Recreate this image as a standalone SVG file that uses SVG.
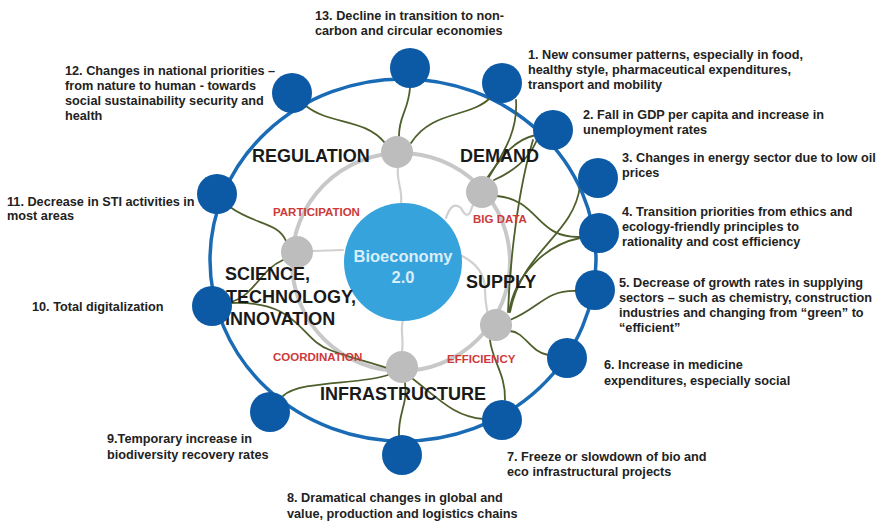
<svg xmlns="http://www.w3.org/2000/svg" width="881" height="524" viewBox="0 0 881 524">
<style>
.bn{fill:#0c5aa6}
.gn{fill:#bdbdbd}
.lnk{fill:none;stroke:#4e5f2c;stroke-width:1.8;stroke-linecap:round}
.spk{fill:none;stroke:#d0d0d0;stroke-width:2.2;stroke-linecap:round}
.it{font-family:"Liberation Sans",Arial,sans-serif;font-weight:bold;font-size:12.7px;fill:#222}
.big{font-family:"Liberation Sans",Arial,sans-serif;font-weight:bold;font-size:18px;fill:#1a1a1a}
.red{font-family:"Liberation Sans",Arial,sans-serif;font-weight:bold;font-size:11.5px;fill:#cc3a3a}
</style>
<rect width="881" height="524" fill="#ffffff"/>
<g id="rings">
<ellipse cx="403" cy="260" rx="193" ry="181" fill="none" stroke="#1a6bb5" stroke-width="3.5"/>
<circle cx="401" cy="262" r="109" fill="none" stroke="#c8c8c8" stroke-width="4"/>
</g>
<g id="connectors">
<path class="spk" d="M398,168 C396,180 403,190 401,203"/>
<path class="spk" d="M313,251 L343,250"/>
<path class="spk" d="M402,351 C404,340 400,330 403,320"/>
<path class="spk" d="M446,218 Q452,200 461,208 Q468,222 472,207 L477,200"/>
<path class="spk" d="M460,255 C475,262 485,272 485,290 C485,305 488,312 488,318"/>
<path class="lnk" d="M306,106 C330,125 365,118 385,143"/>
<path class="lnk" d="M410,88 C408,112 399,115 399,136"/>
<path class="lnk" d="M490,98 C470,118 432,110 411,143"/>
<path class="lnk" d="M516,100 C518,130 505,150 489,177"/>
<path class="lnk" d="M536,135 C512,140 500,160 487,178"/>
<path class="lnk" d="M538,137 C530,160 512,172 494,180"/>
<path class="lnk" d="M533,140 C518,190 510,260 508,312"/>
<path class="lnk" d="M580,186 C574,235 522,250 510,312"/>
<path class="lnk" d="M497,196 C540,200 535,238 580,237"/>
<path class="lnk" d="M580,238 C545,245 515,275 509,312"/>
<path class="lnk" d="M576,291 C545,290 540,308 510,320"/>
<path class="lnk" d="M548,355 C530,352 525,332 510,331"/>
<path class="lnk" d="M505,400 C506,375 492,360 490,340"/>
<path class="lnk" d="M484,419 C455,417 440,400 413,379"/>
<path class="lnk" d="M399,436 C398,412 408,405 405,383"/>
<path class="lnk" d="M283,396 C300,380 360,385 388,375"/>
<path class="lnk" d="M230,303 C300,300 300,340 330,350 C350,358 370,362 387,368"/>
<path class="lnk" d="M283,260 C260,270 255,295 231,302"/>
<path class="lnk" d="M230,207 C255,225 278,222 286,241"/>
</g>
<g id="center">
<circle cx="403" cy="262" r="59" fill="#37a3dc"/>
<text x="403" y="262" text-anchor="middle" font-family="Liberation Sans, Arial, sans-serif" font-weight="bold" font-size="16.5" fill="#d8eef8">Bioeconomy</text>
<text x="403" y="283" text-anchor="middle" font-family="Liberation Sans, Arial, sans-serif" font-weight="bold" font-size="16.5" fill="#d8eef8">2.0</text>
</g>
<g id="regulation"><circle class="gn" cx="397" cy="152" r="16"/><text class="big" x="252" y="162">REGULATION</text></g>
<g id="demand"><circle class="gn" cx="482" cy="192" r="16"/><text class="big" x="460" y="162">DEMAND</text><text class="red" x="473" y="223">BIG DATA</text></g>
<g id="science"><circle class="gn" cx="297" cy="252" r="16"/><text class="big" x="225" y="280">SCIENCE,</text><text class="big" x="226" y="303">TECHNOLOGY,</text><text class="big" x="225" y="325">INNOVATION</text><text class="red" x="273" y="216">PARTICIPATION</text></g>
<g id="supply"><circle class="gn" cx="496" cy="325" r="16"/><text class="big" x="466" y="288">SUPPLY</text><text class="red" x="447" y="363">EFFICIENCY</text></g>
<g id="infrastructure"><circle class="gn" cx="402" cy="367" r="16"/><text class="big" x="320" y="400">INFRASTRUCTURE</text><text class="red" x="273" y="361">COORDINATION</text></g>
<g id="n13"><circle class="bn" cx="410" cy="68" r="20"/><text class="it" x="315" y="20">13. Decline in transition to non-</text><text class="it" x="315" y="35">carbon and circular economies</text></g>
<g id="n1"><circle class="bn" cx="502" cy="83" r="20"/><text class="it" x="528" y="59">1. New consumer patterns, especially in food,</text><text class="it" x="528" y="74">healthy style, pharmaceutical expenditures,</text><text class="it" x="528" y="89">transport and mobility</text></g>
<g id="n2"><circle class="bn" cx="553" cy="130" r="20"/><text class="it" x="583" y="119">2. Fall in GDP  per capita and increase in</text><text class="it" x="583" y="134">unemployment rates</text></g>
<g id="n3"><circle class="bn" cx="598" cy="178" r="20"/><text class="it" x="622" y="162">3. Changes in energy sector due to low oil</text><text class="it" x="622" y="177">prices</text></g>
<g id="n4"><circle class="bn" cx="599" cy="233" r="20"/><text class="it" x="622" y="216">4. Transition priorities from ethics and</text><text class="it" x="622" y="231">ecology-friendly principles to</text><text class="it" x="622" y="246">rationality and cost efficiency</text></g>
<g id="n5"><circle class="bn" cx="595" cy="290" r="20"/><text class="it" x="619" y="287">5. Decrease of growth rates in supplying</text><text class="it" x="619" y="302">sectors – such as chemistry, construction</text><text class="it" x="619" y="317">industries and changing from “green” to</text><text class="it" x="619" y="332">“efficient”</text></g>
<g id="n6"><circle class="bn" cx="567" cy="358" r="20"/><text class="it" x="604" y="369">6. Increase in medicine</text><text class="it" x="604" y="385">expenditures, especially social</text></g>
<g id="n7"><circle class="bn" cx="502" cy="420" r="20"/><text class="it" x="507" y="461">7. Freeze or slowdown of bio and</text><text class="it" x="507" y="476">eco infrastructural projects</text></g>
<g id="n8"><circle class="bn" cx="402" cy="455" r="20"/><text class="it" x="287" y="502">8. Dramatical changes in global and</text><text class="it" x="287" y="518">value, production and logistics chains</text></g>
<g id="n9"><circle class="bn" cx="270" cy="412" r="20"/><text class="it" x="107" y="443">9.Temporary increase in</text><text class="it" x="107" y="459">biodiversity recovery rates</text></g>
<g id="n10"><circle class="bn" cx="212" cy="306" r="20"/><text class="it" x="32" y="311">10. Total digitalization</text></g>
<g id="n11"><circle class="bn" cx="217" cy="194" r="20"/><text class="it" x="7" y="206">11. Decrease in STI activities in</text><text class="it" x="7" y="220">most areas</text></g>
<g id="n12"><circle class="bn" cx="292" cy="93" r="20"/><text class="it" x="65" y="75">12. Changes in national priorities –</text><text class="it" x="65" y="90">from nature to human - towards</text><text class="it" x="65" y="105">social sustainability security and</text><text class="it" x="65" y="120">health</text></g>
</svg>
